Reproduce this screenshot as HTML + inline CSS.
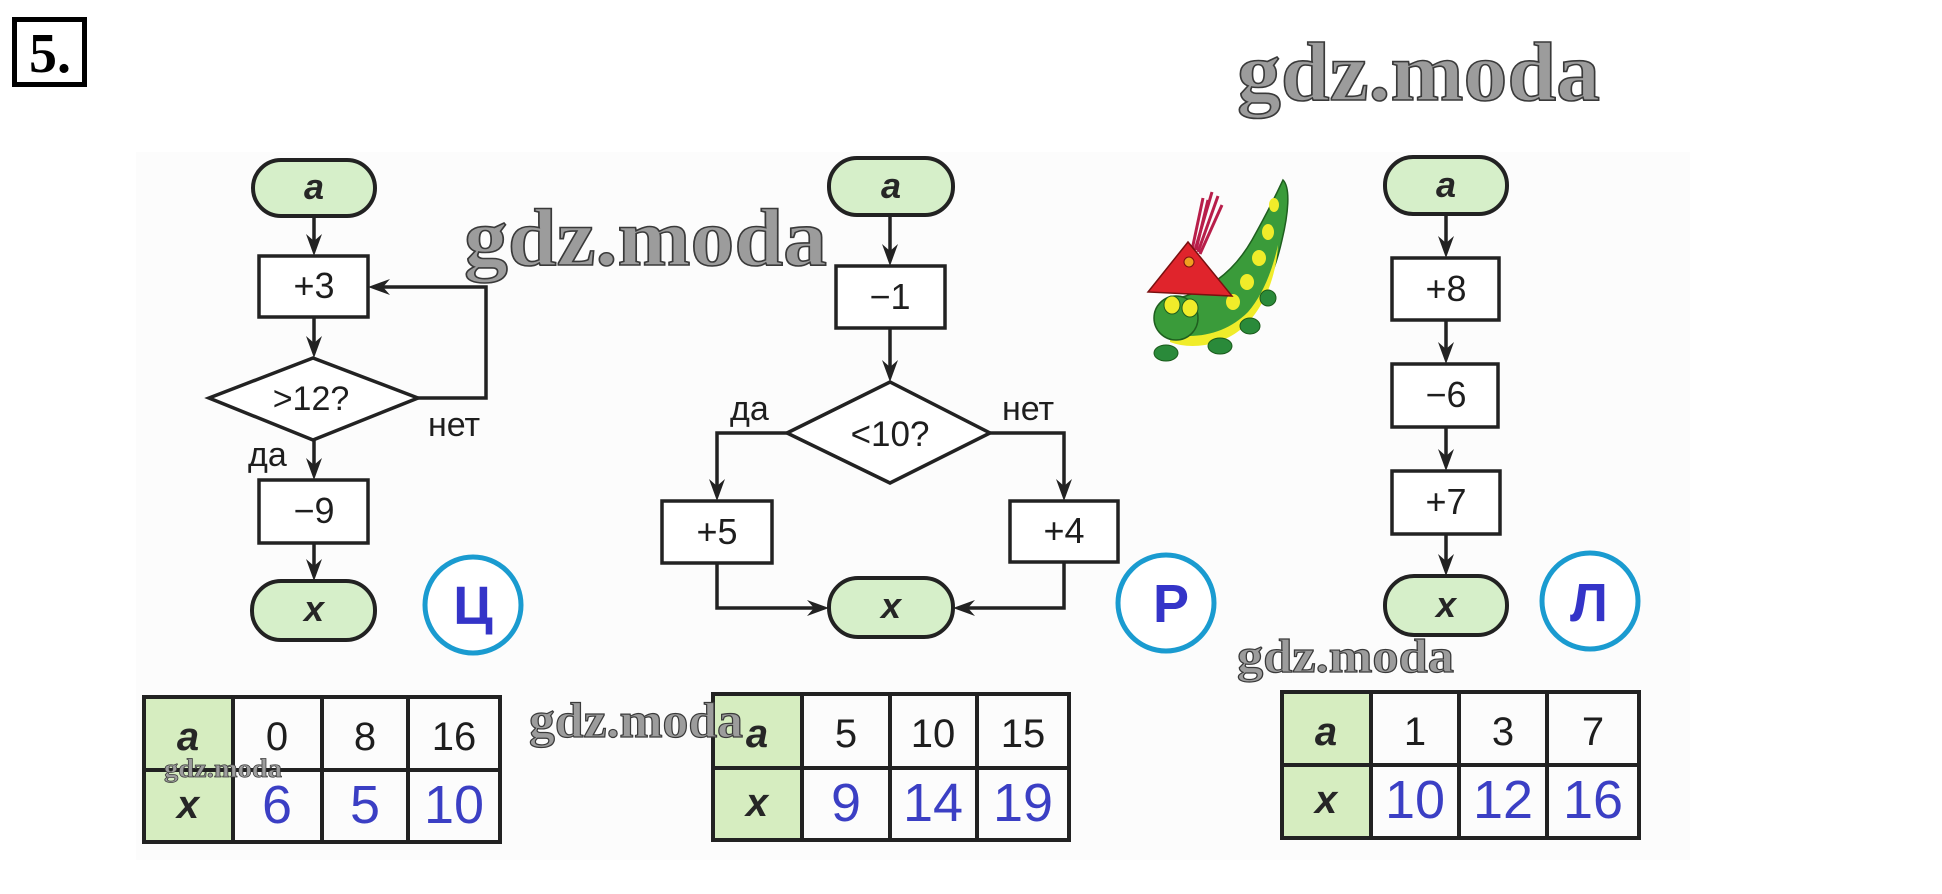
<!DOCTYPE html>
<html>
<head>
<meta charset="utf-8">
<style>
html,body{margin:0;padding:0;background:#fff;}
svg{display:block;}
.lbl{font-family:"Liberation Sans",Arial,sans-serif;fill:#1e1e1e;}
.bi{font-family:"Liberation Sans",Arial,sans-serif;font-weight:bold;font-style:italic;fill:#262626;}
.wm{font-family:"Liberation Serif","DejaVu Serif",serif;font-weight:bold;fill:#9c9c9c;stroke:#3a3a3a;}
</style>
</head>
<body>
<svg width="1942" height="894" viewBox="0 0 1942 894" xmlns="http://www.w3.org/2000/svg">
<rect x="0" y="0" width="1942" height="894" fill="#ffffff"/>
<rect x="136" y="152" width="1554" height="708" fill="#fcfcfc"/>

<!-- 5. -->
<rect x="14.5" y="19.5" width="70" height="65" fill="#fff" stroke="#000" stroke-width="5"/>
<text x="29" y="72" font-family="'Liberation Serif',serif" font-weight="bold" font-size="56" fill="#000">5.</text>

<!-- ========== LEFT (Ц) ========== -->
<g stroke="#222" stroke-width="3.5" fill="none">
  <line x1="314" y1="216" x2="314" y2="250"/>
  <line x1="314" y1="317" x2="314" y2="352"/>
  <line x1="314" y1="440" x2="314" y2="474"/>
  <line x1="314" y1="543" x2="314" y2="575"/>
  <polyline points="418,398 486,398 486,287 380,287"/>
</g>
<g fill="#222">
  <polygon points="314,256 306,234 314,241 322,234"/>
  <polygon points="314,358 306,336 314,343 322,336"/>
  <polygon points="314,480 306,458 314,465 322,458"/>
  <polygon points="314,581 306,559 314,566 322,559"/>
  <polygon points="368,287 390,279 383,287 390,295"/>
</g>
<rect x="253" y="160" width="122" height="56" rx="28" fill="#d6efc9" stroke="#222" stroke-width="4"/>
<text x="314" y="199" text-anchor="middle" class="bi" font-size="36">a</text>
<rect x="259" y="256" width="109" height="61" fill="#fff" stroke="#222" stroke-width="3.5"/>
<text x="314" y="298" text-anchor="middle" class="lbl" font-size="36">+3</text>
<polygon points="209,398 313,358 418,398 313,440" fill="#fff" stroke="#222" stroke-width="3.5"/>
<text x="311" y="410" text-anchor="middle" class="lbl" font-size="34">&gt;12?</text>
<text x="428" y="436" class="lbl" font-size="34">нет</text>
<text x="248" y="466" class="lbl" font-size="34">да</text>
<rect x="259" y="480" width="109" height="63" fill="#fff" stroke="#222" stroke-width="3.5"/>
<text x="314" y="523" text-anchor="middle" class="lbl" font-size="36">−9</text>
<rect x="252" y="581" width="123" height="59" rx="29" fill="#d6efc9" stroke="#222" stroke-width="4"/>
<text x="314" y="621" text-anchor="middle" class="bi" font-size="36">x</text>
<circle cx="473" cy="605" r="48" fill="#fff" stroke="#1a9bd0" stroke-width="5"/>
<text x="473" y="624" text-anchor="middle" font-family="'Liberation Sans',sans-serif" font-weight="bold" font-size="54" fill="#3434c8">Ц</text>

<!-- ========== MIDDLE (Р) ========== -->
<g stroke="#222" stroke-width="3.5" fill="none">
  <line x1="890" y1="215" x2="890" y2="260"/>
  <line x1="890" y1="328" x2="890" y2="376"/>
  <polyline points="787,433 717,433 717,495"/>
  <polyline points="990,433 1064,433 1064,495"/>
  <polyline points="717,563 717,608 823,608"/>
  <polyline points="1064,562 1064,608 959,608"/>
</g>
<g fill="#222">
  <polygon points="890,266 882,244 890,251 898,244"/>
  <polygon points="890,382 882,360 890,367 898,360"/>
  <polygon points="717,501 709,479 717,486 725,479"/>
  <polygon points="1064,501 1056,479 1064,486 1072,479"/>
  <polygon points="829,608 807,600 814,608 807,616"/>
  <polygon points="953,608 975,600 968,608 975,616"/>
</g>
<rect x="829" y="158" width="124" height="57" rx="28" fill="#d6efc9" stroke="#222" stroke-width="4"/>
<text x="891" y="198" text-anchor="middle" class="bi" font-size="36">a</text>
<rect x="836" y="266" width="109" height="62" fill="#fff" stroke="#222" stroke-width="3.5"/>
<text x="890" y="309" text-anchor="middle" class="lbl" font-size="36">−1</text>
<polygon points="787,433 890,382 990,433 890,483" fill="#fff" stroke="#222" stroke-width="3.5"/>
<text x="890" y="446" text-anchor="middle" class="lbl" font-size="35">&lt;10?</text>
<text x="730" y="420" class="lbl" font-size="34">да</text>
<text x="1002" y="420" class="lbl" font-size="34">нет</text>
<rect x="662" y="501" width="110" height="62" fill="#fff" stroke="#222" stroke-width="3.5"/>
<text x="717" y="544" text-anchor="middle" class="lbl" font-size="36">+5</text>
<rect x="1010" y="501" width="108" height="61" fill="#fff" stroke="#222" stroke-width="3.5"/>
<text x="1064" y="543" text-anchor="middle" class="lbl" font-size="36">+4</text>
<rect x="829" y="578" width="124" height="59" rx="29" fill="#d6efc9" stroke="#222" stroke-width="4"/>
<text x="891" y="618" text-anchor="middle" class="bi" font-size="36">x</text>
<circle cx="1166" cy="603" r="48" fill="#fff" stroke="#1a9bd0" stroke-width="5"/>
<text x="1171" y="622" text-anchor="middle" font-family="'Liberation Sans',sans-serif" font-weight="bold" font-size="54" fill="#3434c8">Р</text>

<!-- ========== RIGHT (Л) ========== -->
<g stroke="#222" stroke-width="3.5" fill="none">
  <line x1="1446" y1="214" x2="1446" y2="252"/>
  <line x1="1446" y1="320" x2="1446" y2="358"/>
  <line x1="1446" y1="427" x2="1446" y2="465"/>
  <line x1="1446" y1="534" x2="1446" y2="570"/>
</g>
<g fill="#222">
  <polygon points="1446,258 1438,236 1446,243 1454,236"/>
  <polygon points="1446,364 1438,342 1446,349 1454,342"/>
  <polygon points="1446,471 1438,449 1446,456 1454,449"/>
  <polygon points="1446,576 1438,554 1446,561 1454,554"/>
</g>
<rect x="1385" y="157" width="122" height="57" rx="28" fill="#d6efc9" stroke="#222" stroke-width="4"/>
<text x="1446" y="197" text-anchor="middle" class="bi" font-size="36">a</text>
<rect x="1392" y="258" width="107" height="62" fill="#fff" stroke="#222" stroke-width="3.5"/>
<text x="1446" y="301" text-anchor="middle" class="lbl" font-size="36">+8</text>
<rect x="1392" y="364" width="106" height="63" fill="#fff" stroke="#222" stroke-width="3.5"/>
<text x="1446" y="407" text-anchor="middle" class="lbl" font-size="36">−6</text>
<rect x="1392" y="471" width="108" height="63" fill="#fff" stroke="#222" stroke-width="3.5"/>
<text x="1446" y="514" text-anchor="middle" class="lbl" font-size="36">+7</text>
<rect x="1385" y="576" width="122" height="59" rx="29" fill="#d6efc9" stroke="#222" stroke-width="4"/>
<text x="1446" y="617" text-anchor="middle" class="bi" font-size="36">x</text>
<circle cx="1590" cy="601" r="48" fill="#fff" stroke="#1a9bd0" stroke-width="5"/>
<text x="1589" y="621" text-anchor="middle" font-family="'Liberation Sans',sans-serif" font-weight="bold" font-size="54" fill="#3434c8">Л</text>

<!-- ========== CATERPILLAR ========== -->
<g>
  <path d="M1172,300 C1205,292 1232,275 1252,240 C1266,215 1276,195 1283,180 C1291,188 1288,215 1282,240 C1273,280 1255,318 1225,334 C1205,344 1180,346 1165,336 Z" fill="#3a9b3a" stroke="#1f5f1f" stroke-width="1.5"/>
  <path d="M1170,334 C1200,340 1228,332 1248,312 C1262,296 1272,272 1278,245 C1276,280 1262,312 1240,330 C1220,346 1190,350 1170,342 Z" fill="#f0ec2a"/>
  <ellipse cx="1274" cy="205" rx="5" ry="7" fill="#f0ec2a"/>
  <ellipse cx="1268" cy="232" rx="6" ry="8" fill="#f0ec2a"/>
  <ellipse cx="1259" cy="258" rx="7" ry="8" fill="#f0ec2a"/>
  <ellipse cx="1247" cy="282" rx="7" ry="8" fill="#f0ec2a"/>
  <ellipse cx="1233" cy="302" rx="7" ry="8" fill="#f0ec2a"/>
  <circle cx="1176" cy="318" r="22" fill="#3a9b3a" stroke="#1f5f1f" stroke-width="1.5"/>
  <ellipse cx="1172" cy="305" rx="8" ry="9" fill="#f0ec2a" stroke="#1f5f1f" stroke-width="1"/>
  <ellipse cx="1190" cy="308" rx="8" ry="9" fill="#f0ec2a" stroke="#1f5f1f" stroke-width="1"/>
  <g stroke="#b81e4a" stroke-width="3" fill="none">
    <path d="M1192,250 L1203,198"/>
    <path d="M1195,250 L1212,192"/>
    <path d="M1198,252 L1218,196"/>
    <path d="M1200,254 L1222,205"/>
    <path d="M1196,250 L1208,200"/>
  </g>
  <polygon points="1148,292 1188,242 1232,296" fill="#e0242c" stroke="#7a1010" stroke-width="1.5"/>
  <circle cx="1189" cy="262" r="5" fill="#f0a020" stroke="#7a1010" stroke-width="1"/>
  <g fill="#2a8a3a" stroke="#1a5a1a" stroke-width="1">
    <ellipse cx="1166" cy="353" rx="12" ry="8"/>
    <ellipse cx="1220" cy="346" rx="12" ry="8"/>
    <ellipse cx="1250" cy="326" rx="10" ry="8"/>
    <ellipse cx="1268" cy="298" rx="8" ry="8"/>
  </g>
</g>

<!-- ========== TABLES ========== -->
<!-- left -->
<rect x="144" y="697" width="89" height="145" fill="#d6edc0"/>
<g stroke="#222" stroke-width="4" fill="none">
  <rect x="144" y="697" width="356" height="145"/>
  <line x1="144" y1="770" x2="500" y2="770"/>
  <line x1="233" y1="697" x2="233" y2="842"/>
  <line x1="322" y1="697" x2="322" y2="842"/>
  <line x1="408" y1="697" x2="408" y2="842"/>
</g>
<text x="188" y="750" text-anchor="middle" class="bi" font-size="40">a</text>
<text x="188" y="818" text-anchor="middle" class="bi" font-size="40">x</text>
<g class="lbl" font-size="40" text-anchor="middle">
  <text x="277" y="750">0</text>
  <text x="365" y="750">8</text>
  <text x="454" y="750">16</text>
</g>
<g font-family="'Liberation Sans',sans-serif" font-size="54" fill="#3b3fc4" text-anchor="middle">
  <text x="277" y="823">6</text>
  <text x="365" y="823">5</text>
  <text x="454" y="823">10</text>
</g>

<!-- middle -->
<rect x="713" y="694" width="89" height="146" fill="#d6edc0"/>
<g stroke="#222" stroke-width="4" fill="none">
  <rect x="713" y="694" width="356" height="146"/>
  <line x1="713" y1="768" x2="1069" y2="768"/>
  <line x1="802" y1="694" x2="802" y2="840"/>
  <line x1="890" y1="694" x2="890" y2="840"/>
  <line x1="977" y1="694" x2="977" y2="840"/>
</g>
<text x="757" y="747" text-anchor="middle" class="bi" font-size="40">a</text>
<text x="757" y="816" text-anchor="middle" class="bi" font-size="40">x</text>
<g class="lbl" font-size="40" text-anchor="middle">
  <text x="846" y="747">5</text>
  <text x="933" y="747">10</text>
  <text x="1023" y="747">15</text>
</g>
<g font-family="'Liberation Sans',sans-serif" font-size="54" fill="#3b3fc4" text-anchor="middle">
  <text x="846" y="821">9</text>
  <text x="933" y="821">14</text>
  <text x="1023" y="821">19</text>
</g>

<!-- right -->
<rect x="1282" y="692" width="89" height="146" fill="#d6edc0"/>
<g stroke="#222" stroke-width="4" fill="none">
  <rect x="1282" y="692" width="357" height="146"/>
  <line x1="1282" y1="765" x2="1639" y2="765"/>
  <line x1="1371" y1="692" x2="1371" y2="838"/>
  <line x1="1459" y1="692" x2="1459" y2="838"/>
  <line x1="1547" y1="692" x2="1547" y2="838"/>
</g>
<text x="1326" y="745" text-anchor="middle" class="bi" font-size="40">a</text>
<text x="1326" y="813" text-anchor="middle" class="bi" font-size="40">x</text>
<g class="lbl" font-size="40" text-anchor="middle">
  <text x="1415" y="745">1</text>
  <text x="1503" y="745">3</text>
  <text x="1593" y="745">7</text>
</g>
<g font-family="'Liberation Sans',sans-serif" font-size="54" fill="#3b3fc4" text-anchor="middle">
  <text x="1415" y="818">10</text>
  <text x="1503" y="818">12</text>
  <text x="1593" y="818">16</text>
</g>

<!-- ========== WATERMARKS ========== -->
<text x="1237" y="100" class="wm" font-size="84" stroke-width="1.6" textLength="363" lengthAdjust="spacingAndGlyphs">gdz.moda</text>
<text x="464" y="265" class="wm" font-size="82" stroke-width="1.6" textLength="363" lengthAdjust="spacingAndGlyphs">gdz.moda</text>
<text x="529" y="737" class="wm" font-size="50" stroke-width="1.2" textLength="214" lengthAdjust="spacingAndGlyphs">gdz.moda</text>
<text x="1237" y="672" class="wm" font-size="48" stroke-width="1.2" textLength="217" lengthAdjust="spacingAndGlyphs">gdz.moda</text>
<text x="164" y="777" class="wm" font-size="26" stroke-width="0.7" textLength="118" lengthAdjust="spacingAndGlyphs">gdz.moda</text>
</svg>
</body>
</html>
